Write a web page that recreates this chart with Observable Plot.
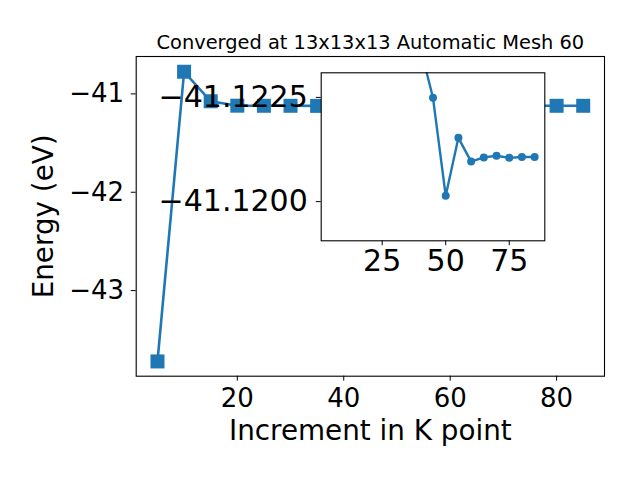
<!DOCTYPE html>
<html>
<head>
<meta charset="utf-8">
<script src="https://cdn.jsdelivr.net/npm/d3@7"></script>
<script src="https://cdn.jsdelivr.net/npm/@observablehq/plot@0.6"></script>
<style>
  body { margin: 0; background: white; }
  #wrap { position: relative; width: 640px; height: 480px; background: white; }
  #wrap svg { position: absolute; left: 0; top: 0; }
</style>
</head>
<body>
<div id="wrap"></div>
<script>
// ---- data ----
const kpoints = [5, 10, 15, 20, 25, 30, 35, 40, 45, 50, 55, 60, 65, 70, 75, 80, 85];
const energy = [-43.72, -40.775, -41.075, -41.12, -41.121, -41.121, -41.122, -41.1237,
                -41.12249, -41.12014, -41.12153, -41.12096, -41.12106, -41.1211,
                -41.12105, -41.12107, -41.12107];
const insetStartK = 40;
const titleText = "Converged at 13x13x13 Automatic Mesh 60";
const xLabel = "Increment in K point";
const yLabel = "Energy (eV)";
const mainXTicks = [20, 40, 60, 80];
const mainYTicks = [-41, -42, -43];
const insetXTicks = [25, 50, 75];
const insetYTicks = [-41.1225, -41.12];

const data = kpoints.map((k, i) => ({k, e: energy[i]}));
const insetData = data.filter(d => d.k >= insetStartK);
const blue = "#1f77b4";
const font = "DejaVu Sans";

const main = Plot.plot({
  width: 640, height: 480,
  marginLeft: 135.7, marginRight: 36, marginTop: 56, marginBottom: 104.3,
  style: {fontFamily: font, fontSize: "25px", color: "black", background: "white", overflow: "visible"},
  x: {domain: [1, 89]},
  y: {domain: [-43.87, -40.62]},
  marks: [
    Plot.axisX({ticks: mainXTicks, tickSize: 4.9, tickPadding: 7.5, label: null, fontSize: 26, tickFormat: d3.format("d")}),
    Plot.axisY({ticks: mainYTicks, tickSize: 4.9, tickPadding: 7.3, label: null, fontSize: 26, tickFormat: d3.format("d")}),
    Plot.line(data, {x: "k", y: "e", stroke: blue, strokeWidth: 2.6}),
    Plot.dot(data, {x: "k", y: "e", symbol: "square", r: 7.9, fill: blue}),
    Plot.frame({stroke: "black", strokeWidth: 1.1}),
    Plot.text([titleText], {frameAnchor: "top", textAnchor: "middle", lineAnchor: "middle", dy: -13.5, fontSize: 19.4, text: d => d}),
    Plot.text([xLabel], {frameAnchor: "bottom", textAnchor: "middle", lineAnchor: "middle", dy: 54.6, fontSize: 27.8, text: d => d}),
    Plot.text([yLabel], {frameAnchor: "left", textAnchor: "middle", lineAnchor: "middle", dx: -91.7, rotate: -90, fontSize: 27.8, text: d => d})
  ]
});

const inset = Plot.plot({
  width: 640, height: 480,
  marginLeft: 320.7, marginRight: 95.7, marginTop: 72.3, marginBottom: 239.7,
  style: {fontFamily: font, fontSize: "29px", color: "black", background: "transparent", overflow: "visible"},
  x: {domain: [1, 89]},
  y: {domain: [-41.12309, -41.11906], reverse: true},
  marks: [
    Plot.frame({fill: "white", stroke: null}),
    Plot.axisX({ticks: insetXTicks, tickSize: 4.9, tickPadding: 4.3, label: null, fontSize: 30, tickFormat: d3.format("d")}),
    Plot.axisY({ticks: insetYTicks, tickSize: 4.9, tickPadding: 8.5, label: null, fontSize: 30, tickFormat: d3.format(".4f")}),
    Plot.line(insetData, {x: "k", y: "e", stroke: blue, strokeWidth: 2.4, clip: true}),
    Plot.dot(insetData, {x: "k", y: "e", r: 4, fill: blue, clip: true}),
    Plot.frame({stroke: "black", strokeWidth: 1.1})
  ]
});

const wrap = document.getElementById("wrap");
wrap.appendChild(main);
wrap.appendChild(inset);
</script>
</body>
</html>
